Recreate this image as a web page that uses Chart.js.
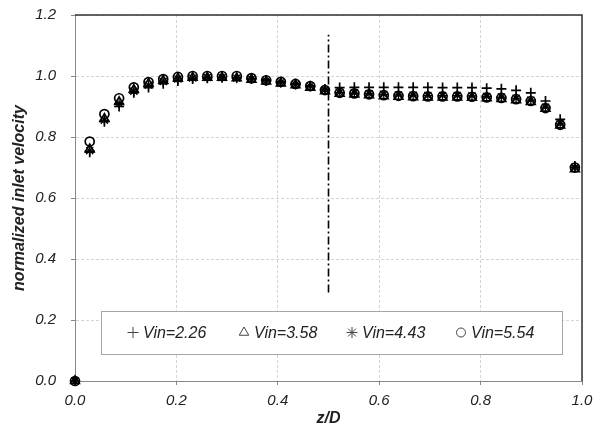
<!DOCTYPE html>
<html>
<head>
<meta charset="utf-8">
<script src="https://cdn.jsdelivr.net/npm/chart.js@4.4.0/dist/chart.umd.min.js"></script>
<style>
  html, body { margin: 0; padding: 0; background: #fff; }
  #wrap { width: 595px; height: 432px; }
</style>
</head>
<body>
<div id="wrap"><canvas id="chart" width="595" height="432"></canvas></div>
<script>
// z/D positions of the measuring points
const zD = [0, 0.029, 0.058, 0.087, 0.116, 0.145, 0.174, 0.203, 0.232, 0.261,
            0.29, 0.319, 0.348, 0.377, 0.406, 0.435, 0.464, 0.493, 0.522, 0.551,
            0.58, 0.609, 0.638, 0.667, 0.696, 0.725, 0.754, 0.783, 0.812, 0.841,
            0.87, 0.899, 0.928, 0.957, 0.986];

// normalized inlet velocity per inlet speed
const vin226 = [0, 0.75, 0.85, 0.90, 0.945, 0.962, 0.975, 0.984, 0.99, 0.993,
                0.995, 0.995, 0.992, 0.987, 0.981, 0.975, 0.968, 0.957, 0.962, 0.963,
                0.963, 0.963, 0.963, 0.963, 0.963, 0.962, 0.962, 0.962, 0.96, 0.958,
                0.953, 0.945, 0.918, 0.858, 0.705];
const vin358 = [0, 0.76, 0.86, 0.915, 0.955, 0.975, 0.985, 0.992, 0.995, 0.995,
                0.995, 0.993, 0.988, 0.982, 0.976, 0.97, 0.962, 0.95, 0.942, 0.94,
                0.937, 0.934, 0.932, 0.931, 0.93, 0.93, 0.93, 0.929, 0.927, 0.925,
                0.921, 0.915, 0.893, 0.838, 0.695];
const vin443 = [0, 0.755, 0.855, 0.91, 0.95, 0.97, 0.982, 0.99, 0.993, 0.995,
                0.995, 0.993, 0.99, 0.984, 0.978, 0.972, 0.966, 0.954, 0.946, 0.944,
                0.942, 0.94, 0.938, 0.937, 0.936, 0.936, 0.936, 0.935, 0.933, 0.931,
                0.927, 0.921, 0.898, 0.843, 0.70];
const vin554 = [0, 0.785, 0.875, 0.927, 0.963, 0.98, 0.99, 0.997, 1.0, 1.0,
                1.0, 1.0, 0.993, 0.986, 0.981, 0.974, 0.967, 0.954, 0.945, 0.943,
                0.94, 0.937, 0.935, 0.934, 0.933, 0.933, 0.933, 0.932, 0.93, 0.928,
                0.924, 0.918, 0.895, 0.84, 0.70];

const seriesLabels = ['Vin=2.26', 'Vin=3.58', 'Vin=4.43', 'Vin=5.54'];

// dash-dot marker at mid width
const dividerX = [0.5, 0.5];
const dividerY = [0.29, 1.135];

const FONT = '"Liberation Sans", Arial, sans-serif';
const INK = '#222';

function pts(ys) {
    return zD.map((z, i) => ({ x: z, y: ys[i] }));
}

function series(label, ys, style) {
    return {
        label: label,
        data: pts(ys),
        pointStyle: style,
        pointRadius: style === 'circle' ? 4.5 : 5,
        pointBorderWidth: style === 'star' ? 1.2 : 1.7,
        borderColor: '#000',
        pointBorderColor: '#000',
        pointBackgroundColor: 'rgba(0,0,0,0)',
        showLine: false,
        clip: false
    };
}

// top/right frame lines
const framePlugin = {
    id: 'frame',
    afterDraw(chart) {
        const { ctx, chartArea: a } = chart;
        ctx.save();
        ctx.lineWidth = 1.5;
        ctx.strokeStyle = '#333';
        ctx.beginPath();
        ctx.moveTo(a.left, a.top);
        ctx.lineTo(a.right, a.top);
        ctx.lineTo(a.right, a.bottom);
        ctx.stroke();
        ctx.restore();
    }
};

// boxed legend inside the plot
const boxLegend = {
    id: 'boxLegend',
    afterDraw(chart) {
        const ctx = chart.ctx;
        const box = { x: 101, y: 311, w: 461, h: 43 };
        ctx.save();
        ctx.fillStyle = '#fff';
        ctx.fillRect(box.x, box.y, box.w, box.h);
        ctx.strokeStyle = '#a6a6a6';
        ctx.lineWidth = 1;
        ctx.strokeRect(box.x + 0.5, box.y + 0.5, box.w, box.h);
        const symX = [133, 244, 352, 461];
        const cy = box.y + box.h / 2;
        ctx.font = 'italic 16px ' + FONT;
        ctx.textBaseline = 'middle';
        chart.data.datasets.slice(0, 4).forEach((ds, i) => {
            ctx.strokeStyle = '#444';
            ctx.fillStyle = 'rgba(0,0,0,0)';
            Chart.helpers.drawPoint(ctx, {
                pointStyle: ds.pointStyle,
                radius: ds.pointStyle === 'circle' ? 4.5 : 5.5,
                borderWidth: 1,
                rotation: 0
            }, symX[i], cy);
            ctx.fillStyle = INK;
            ctx.fillText(ds.label, symX[i] + 10, cy + 1);
        });
        ctx.restore();
    }
};

const data = {
    datasets: [
        series(seriesLabels[0], vin226, 'cross'),
        series(seriesLabels[1], vin358, 'triangle'),
        series(seriesLabels[2], vin443, 'star'),
        series(seriesLabels[3], vin554, 'circle'),
        {
            label: 'divider',
            data: dividerX.map((x, i) => ({ x: x, y: dividerY[i] })),
            showLine: true,
            borderColor: '#000',
            borderWidth: 1.6,
            borderDash: [8, 3, 2, 3],
            pointRadius: 0,
            clip: false
        }
    ]
};

const config = {
    type: 'scatter',
    data: data,
    options: {
        responsive: false,
        animation: false,
        layout: { padding: { top: 15, right: 13, left: 0, bottom: 0 } },
        plugins: {
            legend: { display: false },
            tooltip: { enabled: false }
        },
        scales: {
            x: {
                type: 'linear',
                min: 0,
                max: 1,
                afterFit: s => { s.height = 51; s.paddingLeft = 0; s.paddingRight = 0; },
                border: { display: true, color: '#888', width: 1, dash: [3, 2] },
                grid: { color: '#d4d4d4', lineWidth: 1, tickColor: '#888', tickLength: 4, tickBorderDash: [] },
                ticks: {
                    stepSize: 0.2,
                    padding: 7,
                    color: INK,
                    font: { family: FONT, size: 15, style: 'italic' },
                    callback: v => v.toFixed(1),
                    maxRotation: 0
                },
                title: {
                    display: true,
                    text: 'z/D',
                    color: INK,
                    font: { family: FONT, size: 16, style: 'italic', weight: 'bold' },
                    padding: { top: 0, bottom: 4 }
                }
            },
            y: {
                type: 'linear',
                min: 0,
                max: 1.2,
                afterFit: s => { s.width = 75; s.paddingTop = 0; s.paddingBottom = 0; },
                border: { display: true, color: '#888', width: 1, dash: [3, 2] },
                grid: { color: '#d4d4d4', lineWidth: 1, tickColor: '#888', tickLength: 4, tickBorderDash: [] },
                ticks: {
                    stepSize: 0.2,
                    padding: 15,
                    color: INK,
                    font: { family: FONT, size: 15, style: 'italic' },
                    callback: v => v.toFixed(1)
                },
                title: {
                    display: true,
                    text: 'normalized inlet velocity',
                    color: INK,
                    font: { family: FONT, size: 16, style: 'italic', weight: 'bold' },
                    padding: { top: 10, bottom: 0 }
                }
            }
        }
    },
    plugins: [framePlugin, boxLegend]
};

const chart = new Chart(document.getElementById('chart'), config);
</script>
</body>
</html>
